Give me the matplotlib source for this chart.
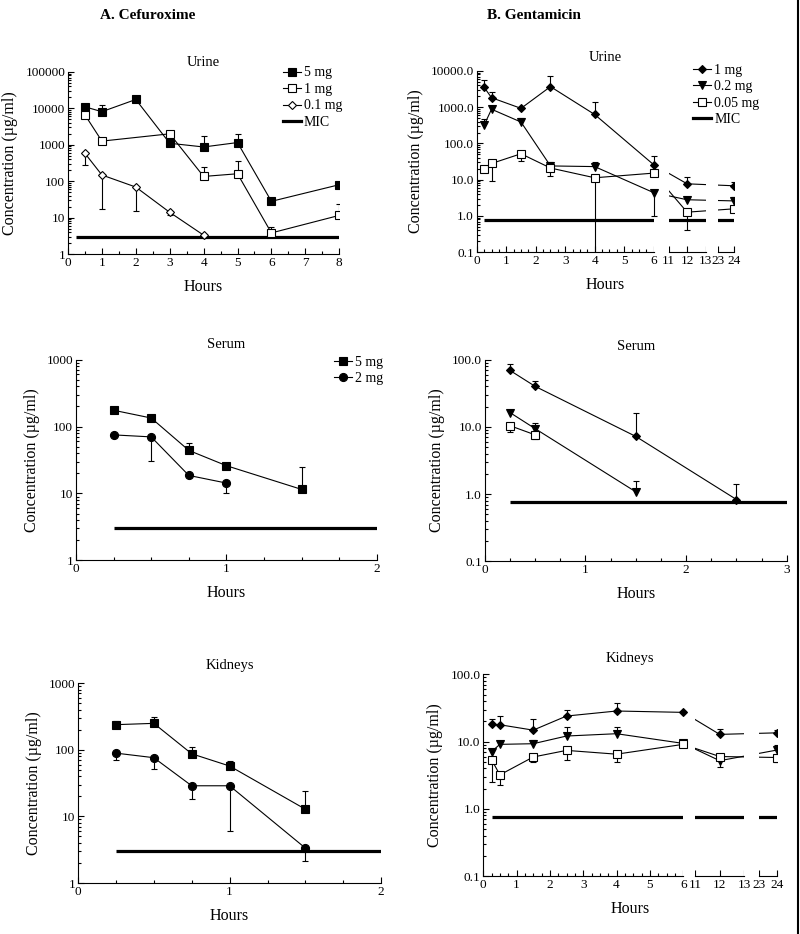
import numpy as np
import matplotlib
matplotlib.use('Agg')
import matplotlib.pyplot as plt
from matplotlib.lines import Line2D
from matplotlib.ticker import LogLocator, NullFormatter, MultipleLocator, FixedLocator

plt.rcParams['font.family'] = ['Liberation Serif', 'DejaVu Serif']

# ---------------- data ----------------
# A. Cefuroxime - urine
cu_t5 = [0.5, 1, 2, 3, 4, 5, 6, 8]
cu_5 = [11000, 8100, 17500, 1100, 870, 1150, 28, 80]
cu_5_up = [None, 12000, 20000, 1500, 1750, 2000, None, None]
cu_t1 = [0.5, 1, 3, 4, 5, 6, 8]
cu_1 = [6600, 1260, 2000, 135, 160, 3.8, 11.5]
cu_1_up = [8700, None, None, 250, 350, 5.5, 23]
cu_t01 = [0.5, 1, 2, 3, 4]
cu_01 = [580, 148, 69, 14, 3.3]
cu_01_dn = [280, 17, 15, 11.5, None]

# A. Cefuroxime - serum
cs_t5 = [0.25, 0.5, 0.75, 1.0, 1.5]
cs_5 = [175, 134, 44, 26, 11.5]
cs_5_up = [None, None, 57, None, 24.5]
cs_t2 = [0.25, 0.5, 0.75, 1.0]
cs_2 = [75, 70, 18.6, 14.3]
cs_2_dn = [None, 30.5, None, 10.1]

# A. Cefuroxime - kidneys
ck_t = [0.25, 0.5, 0.75, 1.0, 1.5]
ck_5 = [238, 249, 87, 57, 12.8]
ck_5_up = [270, 310, 110, 68, 23.7]
ck_2 = [89, 76, 28.8, 28.8, 3.34]
ck_2_dn = [70, 52, 18.3, 6.05, 2.16]

cef_mic = 3.0

# B. Gentamicin - urine
gu_t = [0.25, 0.5, 1.5, 2.5, 4, 6, 12, 24]
gu_1 = [3540, 1830, 930, 3700, 630, 26, 7.7, 6.8]
gu_1_up = [5800, 2600, None, 7400, 1400, 44, 12, 8.4]
gu_02 = [323, 880, 390, 24, 23, 4.4, 2.8, 2.6]
gu_02_up = [460, None, 500, 30, 31, None, None, 3.3]
gu_02_dn = [None, None, None, None, None, 1.0, None, None]
gu_005 = [19.2, 28, 52, 21, 11.3, 15.2, 1.27, 1.57]
gu_005_dn = [None, 9.1, 32, 12.3, 0.05, None, 0.41, None]

# B. Gentamicin - serum
gs_t1 = [0.25, 0.5, 1.5, 2.5]
gs_1 = [69, 40, 7.2, 0.83]
gs_1_up = [85, 48, 16.3, 1.42]
gs_t02 = [0.25, 0.5, 1.5]
gs_02 = [16.3, 9.4, 1.08]
gs_02_up = [17.5, 11.4, 1.59]
gs_t005 = [0.25, 0.5]
gs_005 = [10.4, 7.6]
gs_005_dn = [8.4, 6.6]

# B. Gentamicin - kidneys
gk_t = [0.25, 0.5, 1.5, 2.5, 4, 6, 12, 24]
gk_1 = [18, 17.8, 14.8, 24, 28.5, 27.2, 12.8, 13.5]
gk_1_up = [22, 24.3, 21.9, 29.8, 37.4, 29, 15.2, 15]
gk_02 = [7.1, 9.1, 9.3, 12.1, 13.1, 9.4, 5.2, 7.5]
gk_02_up = [None, None, 10.5, 16.6, 16.6, None, None, 8.9]
gk_02_dn = [None, None, None, None, None, None, 4.2, None]
gk_005 = [5.4, 3.2, 5.9, 7.4, 6.5, 9.1, 6.0, 5.8]
gk_005_dn = [2.5, 2.3, 4.9, 5.4, 4.9, 8.2, None, 5.0]

gent_mic = 0.75

cef_yticks = [1, 10, 100, 1000, 10000, 100000]
cef_ylabels = ['1', '10', '100', '1000', '10000', '100000']
gent_yticks = [0.1, 1, 10, 100, 1000, 10000]
gent_ylabels = ['0.1', '1.0', '10.0', '100.0', '1000.0', '10000.0']
broken_ticks = [0, 1, 2, 3, 4, 5, 6, 11, 12, 13, 23, 24]
broken_pieces = [(0, 6), (11, 13), (23, 24)]

LW = 0.8
SQ = 5.8    # square marker size
CI = 5.8    # circle
DI = 4.0    # diamond
TR = 6.2    # triangle


def error_ends(ax, x, y, ends):
    # one-sided error bar: vertical stroke from the point to the end, cap at the end
    pts = [(xi, yi, e) for xi, yi, e in zip(x, y, ends) if e is not None]
    if not pts:
        return
    xs = [p[0] for p in pts]
    ax.vlines(xs, [p[1] for p in pts], [p[2] for p in pts], color='k', lw=LW, zorder=3)
    ax.plot(xs, [p[2] for p in pts], ls='none', marker='_', ms=5, mew=LW, color='k', zorder=3)


def series(ax, x, y, marker, face, ms, up=None, dn=None):
    ax.plot(x, y, color='k', lw=LW, zorder=2)
    if up is not None:
        error_ends(ax, x, y, up)
    if dn is not None:
        error_ends(ax, x, y, dn)
    ax.plot(x, y, ls='none', marker=marker, mfc=face, mec='k', mew=LW, ms=ms, zorder=4)


def mic(ax, x0, x1, val):
    ax.plot([x0, x1], [val, val], color='k', lw=2.3, solid_capstyle='butt', zorder=2)


def handle(marker, face, ms):
    return Line2D([], [], color='k', lw=LW, marker=marker, mfc=face, mec='k', mew=LW, ms=ms)


def style(ax, title, yticks, ylabels, ylim, title_pad):
    ax.set_yscale('log')
    ax.set_ylim(*ylim)
    ax.set_yticks(yticks)
    ax.set_yticklabels(ylabels)
    ax.yaxis.set_minor_locator(LogLocator(base=10, subs=np.arange(2, 10)))
    ax.yaxis.set_minor_formatter(NullFormatter())
    for s in ['top', 'right']:
        ax.spines[s].set_visible(False)
    for s in ['left', 'bottom']:
        ax.spines[s].set_linewidth(LW)
    ax.tick_params(which='both', direction='in', width=LW, labelsize=9.5, pad=2)
    ax.tick_params(which='major', length=4)
    ax.tick_params(which='minor', length=2)
    ax.set_title(title, fontsize=10.5, pad=title_pad)
    ax.set_ylabel('Concentration (µg/ml)', fontsize=11.5, labelpad=5)
    ax.set_xlabel('Hours', fontsize=11.5, labelpad=7)


def broken_axis(ax, g1, s2, g2, s3):
    u13 = 6 + g1 + 2 * s2
    xs = [-100, 0, 6, 11, 13, 23, 24, 124]
    us = [-100, 0, 6, 6 + g1, u13, u13 + g2, u13 + g2 + s3, u13 + g2 + s3 + 100 * s3]
    ax.set_xscale('function', functions=(lambda x: np.interp(x, xs, us),
                                         lambda u: np.interp(u, us, xs)))
    ax.set_xlim(0, 24)
    ax.set_xticks(broken_ticks)
    ax.set_xticklabels([str(t) for t in broken_ticks])
    ax.xaxis.set_minor_locator(FixedLocator(np.arange(0.25, 6, 0.25)))
    ax.spines['bottom'].set_visible(False)
    # hide the gaps
    ax.axvspan(6, 11, color='white', lw=0, zorder=2.2)
    ax.axvspan(13, 23, color='white', lw=0, zorder=2.2)
    for a, b in broken_pieces:
        ax.plot([a, b], [0, 0], color='k', lw=LW, transform=ax.get_xaxis_transform(),
                clip_on=False, zorder=5)


fig = plt.figure(figsize=(8, 9.34), dpi=100)

fig.text(0.184, 0.983, 'A. Cefuroxime', ha='center', va='center', fontsize=11, fontweight='bold')
fig.text(0.668, 0.983, 'B. Gentamicin', ha='center', va='center', fontsize=11, fontweight='bold')

# ---- A urine
ax = fig.add_axes([0.085, 0.728, 0.339, 0.195])
series(ax, cu_t5, cu_5, 's', 'k', SQ, up=cu_5_up)
series(ax, cu_t1, cu_1, 's', 'white', SQ, up=cu_1_up)
series(ax, cu_t01, cu_01, 'D', 'white', DI, dn=cu_01_dn)
mic(ax, 0.25, 8, cef_mic)
ax.set_xlim(0, 8)
ax.set_xticks(range(0, 9))
ax.xaxis.set_minor_locator(MultipleLocator(0.5))
style(ax, 'Urine', cef_yticks, cef_ylabels, (1, 100000), 4)
ax.legend([handle('s', 'k', SQ), handle('s', 'white', SQ), handle('D', 'white', DI),
           Line2D([], [], color='k', lw=2.3)],
          ['5 mg', '1 mg', '0.1 mg', 'MIC'], loc='upper right', bbox_to_anchor=(1.01, 1.03),
          frameon=False, fontsize=10, handlelength=1.3, handletextpad=0.2,
          labelspacing=0.25, borderaxespad=0, borderpad=0)

# ---- B urine
ax = fig.add_axes([0.596, 0.730, 0.321, 0.194])
broken_axis(ax, 0.51, 0.627, 0.41, 0.54)
series(ax, gu_t, gu_1, 'D', 'k', DI, up=gu_1_up)
series(ax, gu_t, gu_02, 'v', 'k', TR, up=gu_02_up, dn=gu_02_dn)
series(ax, gu_t, gu_005, 's', 'white', SQ, dn=gu_005_dn)
mic(ax, 0.25, 24, gent_mic)
style(ax, 'Urine', gent_yticks, gent_ylabels, (0.1, 10000), 7)
ax.legend([handle('D', 'k', DI), handle('v', 'k', TR), handle('s', 'white', SQ),
           Line2D([], [], color='k', lw=2.3)],
          ['1 mg', '0.2 mg', '0.05 mg', 'MIC'], loc='upper right', bbox_to_anchor=(1.10, 1.04),
          frameon=False, fontsize=10, handlelength=1.3, handletextpad=0.2,
          labelspacing=0.25, borderaxespad=0, borderpad=0)

# ---- A serum
ax = fig.add_axes([0.095, 0.400, 0.376, 0.215])
series(ax, cs_t5, cs_5, 's', 'k', SQ, up=cs_5_up)
series(ax, cs_t2, cs_2, 'o', 'k', CI, dn=cs_2_dn)
mic(ax, 0.25, 2, cef_mic)
ax.set_xlim(0, 2)
ax.set_xticks([0, 1, 2])
ax.xaxis.set_minor_locator(MultipleLocator(0.25))
style(ax, 'Serum', cef_yticks[:4], cef_ylabels[:4], (1, 1000), 8)
ax.legend([handle('s', 'k', SQ), handle('o', 'k', CI)], ['5 mg', '2 mg'],
          loc='upper right', bbox_to_anchor=(1.02, 1.02), frameon=False, fontsize=10,
          handlelength=1.3, handletextpad=0.2, labelspacing=0.25, borderaxespad=0, borderpad=0)

# ---- B serum
ax = fig.add_axes([0.606, 0.399, 0.3775, 0.216])
series(ax, gs_t1, gs_1, 'D', 'k', DI, up=gs_1_up)
series(ax, gs_t02, gs_02, 'v', 'k', TR, up=gs_02_up)
series(ax, gs_t005, gs_005, 's', 'white', SQ, dn=gs_005_dn)
mic(ax, 0.25, 3, gent_mic)
ax.set_xlim(0, 3)
ax.set_xticks([0, 1, 2, 3])
ax.xaxis.set_minor_locator(MultipleLocator(0.25))
style(ax, 'Serum', gent_yticks[:4], gent_ylabels[:4], (0.1, 100), 7)

# ---- A kidneys
ax = fig.add_axes([0.0975, 0.0546, 0.379, 0.214])
series(ax, ck_t, ck_5, 's', 'k', SQ, up=ck_5_up)
series(ax, ck_t, ck_2, 'o', 'k', CI, dn=ck_2_dn)
mic(ax, 0.25, 2, cef_mic)
ax.set_xlim(0, 2)
ax.set_xticks([0, 1, 2])
ax.xaxis.set_minor_locator(MultipleLocator(0.25))
style(ax, 'Kidneys', cef_yticks[:4], cef_ylabels[:4], (1, 1000), 10)

# ---- B kidneys
ax = fig.add_axes([0.604, 0.062, 0.3675, 0.216])
broken_axis(ax, 0.36, 0.735, 0.45, 0.54)
series(ax, gk_t, gk_1, 'D', 'k', DI, up=gk_1_up)
series(ax, gk_t, gk_02, 'v', 'k', TR, up=gk_02_up, dn=gk_02_dn)
series(ax, gk_t, gk_005, 's', 'white', SQ, dn=gk_005_dn)
mic(ax, 0.25, 24, gent_mic)
style(ax, 'Kidneys', gent_yticks[:4], gent_ylabels[:4], (0.1, 100), 9)

# scanned page edge
fig.add_artist(Line2D([0.998, 0.998], [0, 1], color='k', lw=1.5))

fig.savefig('out.png', dpi=100)
